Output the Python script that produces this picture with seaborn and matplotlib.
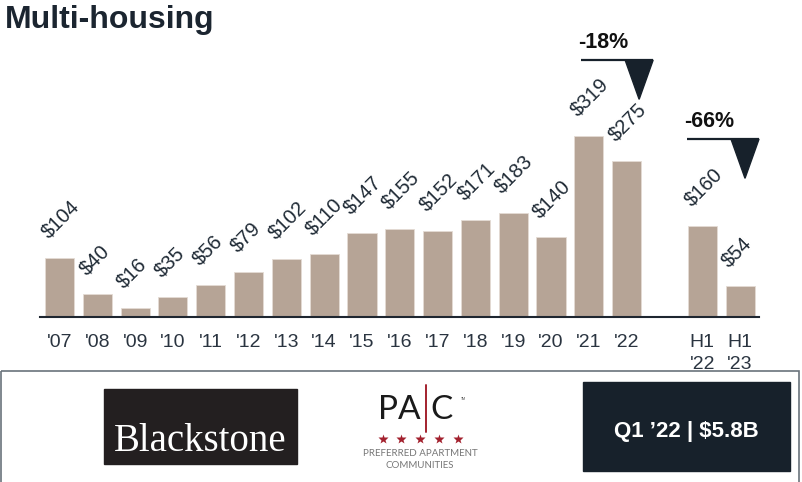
import numpy as np
import matplotlib
matplotlib.use("Agg")
import matplotlib.pyplot as plt
from matplotlib.patches import Rectangle, Polygon
import seaborn as sns

# Annual multi-housing deal volume ($B) and first-half comparison
years = ["'07", "'08", "'09", "'10", "'11", "'12", "'13", "'14", "'15",
         "'16", "'17", "'18", "'19", "'20", "'21", "'22"]
year_values = [104, 40, 16, 35, 56, 79, 102, 110, 147, 155, 152, 171, 183, 140, 319, 275]
halves = ["H1\n'22", "H1\n'23"]
half_values = [160, 54]
change_labels = ["-18%", "-66%"]

BAR = "#b6a496"
INK = "#1f2a35"
NAVY = "#17212b"

sns.set_theme(style="white")
plt.rcParams["font.family"] = ["Liberation Sans", "DejaVu Sans"]

# the half-year bars sit after a one-slot gap
x_pos = np.r_[np.arange(len(years)), len(years) + 1 + np.arange(len(halves))]
values = year_values + half_values
labels = years + halves

W, H = 802, 482
fig = plt.figure(figsize=(W / 100, H / 100), dpi=100)

ax = fig.add_axes([40 / W, (H - 317) / H, 719 / W, 287 / H])
ax.set_facecolor("none")
sns.barplot(x=x_pos, y=values, native_scale=True, width=0.77, color=BAR,
            saturation=1, edgecolor="#e4dbd4", linewidth=0.6, ax=ax)

ax.set_xlim(-0.516, 18.5)
ax.set_ylim(0, 505)
ax.set_xticks(x_pos)
ax.set_xticklabels(labels, fontsize=14, color="#2a3440", linespacing=1.35, va="top")
ax.tick_params(axis="x", length=0, pad=12.5)
ax.set_yticks([])
ax.set_xlabel("")
ax.set_ylabel("")
for side in ["left", "right", "top"]:
    ax.spines[side].set_visible(False)
ax.spines["bottom"].set_color("#1e2630")
ax.spines["bottom"].set_linewidth(1.5)

# rotated value labels above each bar
half_w = 0.77 / 2
for x, v in zip(x_pos, values):
    ax.annotate(f"${v}", xy=(x - half_w, v), xytext=(2.5, 13.5),
                textcoords="offset points", rotation=45, rotation_mode="anchor",
                ha="left", va="baseline", fontsize=14.5, color=INK,
                annotation_clip=False)

# change callouts: label, rule and downward triangle
def callout(x0, x1, y, text):
    ax.plot([x0, x1], [y, y], color=NAVY, lw=1.6, clip_on=False,
            solid_capstyle="butt")
    tri_w = 0.74
    ax.add_patch(Polygon([[x1 - tri_w, y], [x1, y], [x1 - tri_w / 2, y - 69]],
                         closed=True, color=NAVY, clip_on=False))
    ax.text(x0 - 0.08, y + 21, text, fontsize=15.5, fontweight="bold",
            color="#111111", ha="left", va="baseline")

callout(x_pos[14] - 0.2, x_pos[15] + 0.7, 452, change_labels[0])
callout(x_pos[16] - 0.4, x_pos[17] + 0.5, 313, change_labels[1])

fig.text(5 / W, 1 - 28 / H, "Multi-housing", fontsize=23, fontweight="bold",
         color="#1b2530", ha="left", va="baseline")

# lower panel with transaction logos, laid out in pixel units
ov = fig.add_axes([0, 0, 1, 1], zorder=-1)
ov.set_xlim(0, W)
ov.set_ylim(H, 0)
ov.axis("off")
ov.set_facecolor("none")

ov.add_patch(Rectangle((0.5, 371), 798, 120, fill=False, edgecolor="#6a737b", lw=1.2))

ov.add_patch(Rectangle((104, 389), 193, 75, color="#231f20"))
ov.text(200, 451, "Blackstone", fontsize=28, color="white",
        family=["Liberation Serif", "DejaVu Serif"], ha="center", va="baseline")

logo_font = ["Lato", "Open Sans", "DejaVu Sans"]
ov.text(421, 419, "PA", fontsize=24, color="#1a1a1a", ha="right", va="baseline",
        family=logo_font)
ov.text(430, 419, "C", fontsize=24, color="#1a1a1a", ha="left", va="baseline",
        family=logo_font)
ov.plot([426, 426], [385, 432], color="#a3212e", lw=1.4)
ov.text(461, 399, "TM", fontsize=2.5, color="#444444", ha="left", va="center")
ov.plot(np.linspace(382.5, 457.5, 5), [439] * 5, ls="none", marker="*",
        ms=7.5, color="#a3212e", mec="none")
ov.text(420.5, 453, "PREFERRED APARTMENT", fontsize=7, color="#777777",
        ha="center", va="center", family=logo_font)
ov.text(420, 466, "COMMUNITIES", fontsize=7, color="#777777",
        ha="center", va="center", family=logo_font)

ov.add_patch(Rectangle((583, 382), 207, 89, color=NAVY))
ov.text(686, 437, "Q1 \u201922 | $5.8B", fontsize=16, fontweight="bold",
        color="white", ha="center", va="baseline")

fig.savefig("out.png", dpi=100)
